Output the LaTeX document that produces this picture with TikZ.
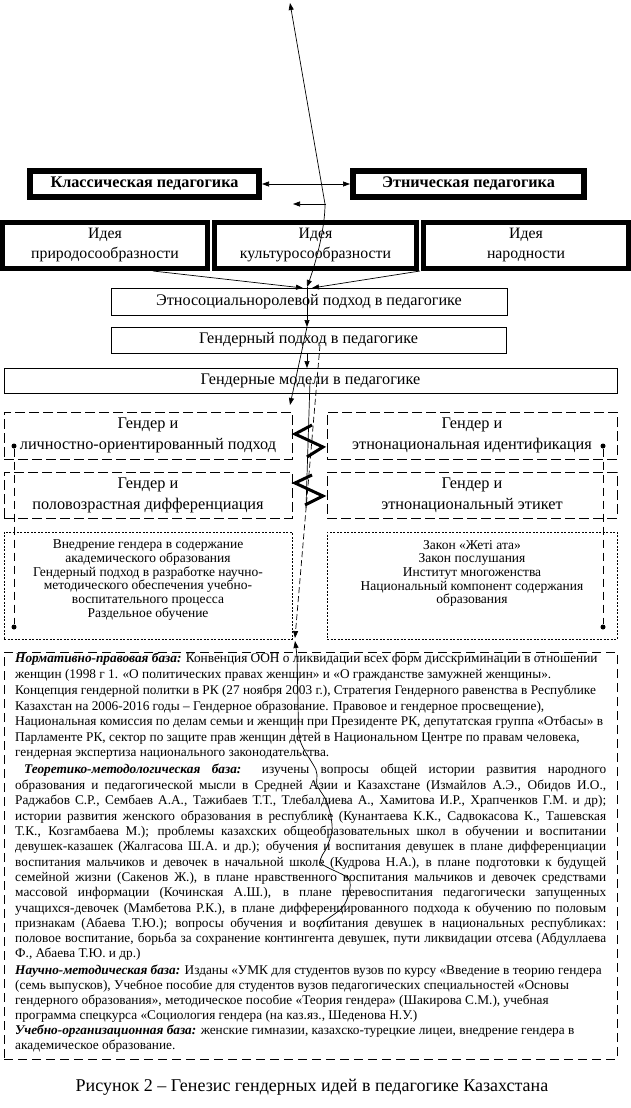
\documentclass[tikz,border=0pt]{standalone}
\usepackage{fontspec}
\setmainfont{Liberation Serif}
\usetikzlibrary{arrows.meta}
\begin{document}
\begin{tikzpicture}[x=1pt,y=-1pt,
  tip/.style={-{Triangle[length=7pt,width=5pt]}},
  tiptwo/.style={{Triangle[length=7pt,width=5pt]}-{Triangle[length=7pt,width=5pt]}},
  tipback/.style={{Triangle[length=7pt,width=5pt]}-},
  conn/.style={line width=0.7pt},
  thickbox/.style={draw,line width=6pt,inner sep=0,font=\bfseries\fontsize{16.2}{18}\selectfont},
  ideabox/.style={draw,line width=5pt,inner sep=0,align=center,font=\fontsize{15.8}{20}\selectfont},
  thinbox/.style={draw,line width=0.8pt,inner sep=0,font=\fontsize{16.2}{18}\selectfont},
  dashbox/.style={draw,line width=0.8pt,dash pattern=on 10pt off 4pt,inner sep=0,align=center,font=\fontsize{16.3}{21}\selectfont},
  dotbox/.style={draw,line width=0.7pt,dash pattern=on 2pt off 1.5pt,inner sep=0},
  dottext/.style={inner sep=0,align=center,font=\fontsize{13.5}{13.7}\selectfont},
  bigbox/.style={draw,line width=0.8pt,dash pattern=on 9pt off 5pt,inner sep=0},
  bline/.style={anchor=base west,inner sep=0,font=\fontsize{13.3}{15}\selectfont},
  dot/.style={circle,fill,inner sep=0,minimum size=5pt},
  dline/.style={line width=0.7pt,dash pattern=on 8pt off 5pt},
  zig/.style={line width=3pt,miter limit=10},
]
\useasboundingbox (0,0) rectangle (631,1108);
\fill[white] (0,0) rectangle (631,1108);

% top boxes
\node[thickbox,minimum width=229pt,minimum height=26pt] (klass) at (144.5,184) {Классическая педагогика};
\node[thickbox,minimum width=231pt,minimum height=26pt] (ethn) at (468.5,184) {Этническая педагогика};

% idea boxes
\node[ideabox,minimum width=205pt,minimum height=46pt] (idea1) at (105,245.5) {Идея\\природосообразности};
\node[ideabox,minimum width=202pt,minimum height=46pt] (idea2) at (315.5,245.5) {Идея\\культуросообразности};
\node[ideabox,minimum width=205pt,minimum height=46pt] (idea3) at (526,245.5) {Идея\\народности};

% approach boxes
\node[thinbox,minimum width=396pt,minimum height=27pt] (esr) at (309,301.5) {Этносоциальноролевой подход в педагогике};
\node[thinbox,minimum width=395pt,minimum height=26pt] (gend) at (308.5,340) {Гендерный подход в педагогике};
\node[thinbox,minimum width=613pt,minimum height=25pt] (model) at (310.5,380.5) {Гендерные модели в педагогике};

% dashed boxes
\node[dashbox,minimum width=288pt,minimum height=47pt] (gl1) at (148,435.5) {Гендер и\\личностно-ориентированный подход};
\node[dashbox,minimum width=290pt,minimum height=47pt] (gr1) at (472,435.5) {Гендер и\\этнонациональная идентификация};
\node[dashbox,minimum width=288pt,minimum height=46pt] (gl2) at (148,495) {Гендер и\\половозрастная дифференциация};
\node[dashbox,minimum width=290pt,minimum height=46pt] (gr2) at (472,495) {Гендер и\\этнонациональный этикет};

% dotted boxes
\node[dotbox,minimum width=288pt,minimum height=107pt] (bl) at (148,585.5) {};
\node[dotbox,minimum width=290pt,minimum height=107pt] (br) at (472,585.5) {};
\node[dottext] (blt) at (148,580) {Внедрение гендера в содержание\\академического образования\\Гендерный подход в разработке научно-\\методического обеспечения учебно-\\воспитательного процесса\\Раздельное обучение};
\node[dottext] (brt) at (472,573.5) {Закон «Жеті ата»\\Закон послушания\\Институт многоженства\\Национальный компонент содержания\\образования};

% dots and dashed side connectors
\node[dot] (dl1) at (14,446) {};
\node[dot] (dl2) at (14,627) {};
\node[dot] (dr1) at (603,446) {};
\node[dot] (dr2) at (603,627) {};
\draw[dline] (dl1) -- (dl2);
\draw[dline] (dr1) -- (dr2);

% big bottom box
\node[bigbox,minimum width=613pt,minimum height=407pt] (big) at (310.5,855.5) {};

% connectors at the top
\coordinate (topTip) at (290,3);
\coordinate (bend) at (325,204);
\coordinate (conv) at (307,287);
\draw[conn,tiptwo] (conv) .. controls (315,265) and (325,230) .. (bend) -- (topTip);
\draw[conn,tiptwo] (klass.east) -- (ethn.west);
\coordinate (sa1) at (326,204);
\coordinate (sa2) at (293,204);
\draw[conn,tip] (sa1) -- (sa2);

\coordinate (s1) at (153,271);
\coordinate (e1) at (303,288);
\coordinate (s3) at (420,271);
\coordinate (e3) at (312,288);
\draw[conn,tip] (s1) -- (e1);
\draw[conn,tip] (s3) -- (e3);

\coordinate (g1) at (307,327);
\coordinate (g2) at (307,353);
\coordinate (m1) at (307,368);
\coordinate (m2) at (290,405);
\draw[conn,tip] (conv) -- (g1);
\draw[conn,tip] (g2) -- (m1);
\draw[conn,tip] (g1) -- (m2);

\coordinate (d1) at (320,345);
\coordinate (d2) at (295,638);
\draw[conn,tip,dash pattern=on 6pt off 3pt] (d1) -- (d2);
\coordinate (v1) at (310,381);
\coordinate (v2) at (306,508);
\draw[conn] (v1) -- (v2);

% zigzags
\draw[zig] (312,425) -- (295,434) -- (323,447) -- (307,457);
\draw[zig] (312,475) -- (295,483) -- (323,496) -- (305,505);

% wobbly line through text
\coordinate (w0) at (295,641);
\draw[conn,tipback] plot[smooth,tension=0.5] coordinates {(295,641) (297,660) (298,700) (300,740) (316,770) (317,785) (326,800) (331,817) (332,832) (327,847) (321,863) (348,878) (349,893) (342,908) (322,923) (319,930)};

% bottom text: ragged lines
\foreach \yb/\mytext [count=\i] in {
 662/{\textbf{\textit{Нормативно-правовая база:}} Конвенция ООН о ликвидации всех форм дисскриминации в отношении},
 678/{женщин (1998 г 1. «О политических правах женщин» и «О гражданстве замужней женщины».},
 694/{Концепция гендерной политки в РК (27 ноября 2003 г.), Стратегия Гендерного равенства в Республике},
 710/{Казахстан на 2006-2016 годы – Гендерное образование. Правовое и гендерное просвещение),},
 725/{Национальная комиссия по делам семьи и женщин при Президенте РК, депутатская группа «Отбасы» в},
 741/{Парламенте РК, сектор по защите прав женщин детей в Национальном Центре по правам человека,},
 756/{гендерная экспертиза национального законодательства.},
 957/{Ф., Абаева Т.Ю. и др.)},
 974/{\textbf{\textit{Научно-методическая база:}} Изданы «УМК для студентов вузов по курсу «Введение в теорию гендера},
 989/{(семь выпусков), Учебное пособие для студентов вузов педагогических специальностей «Основы},
 1004/{гендерного образования», методическое пособие «Теория гендера» (Шакирова С.М.), учебная},
 1019/{программа спецкурса «Социология гендера (на каз.яз., Шеденова Н.У.)},
 1034/{\textbf{\textit{Учебно-организационная база:}} женские гимназии, казахско-турецкие лицеи, внедрение гендера в},
 1049/{академическое образование.}}
 \node[bline] (ra\i) at (15,\yb) {\mytext};

% bottom text: justified lines
\node[bline] (jfirst) at (24,773) {\makebox[582pt][s]{\textbf{\textit{Теоретико-методологическая база:}} изучены вопросы общей истории развития народного}};
\foreach \yb/\mytext [count=\i] in {
 789/{образования и педагогической мысли в Средней Азии и Казахстане (Измайлов А.Э., Обидов И.О.,},
 804/{Раджабов С.Р., Сембаев А.А., Тажибаев Т.Т., Тлебалдиева А., Хамитова И.Р., Храпченков Г.М. и др);},
 820/{истории развития женского образования в республике (Кунантаева К.К., Садвокасова К., Ташевская},
 835/{Т.К., Козгамбаева М.); проблемы казахских общеобразовательных школ в обучении и воспитании},
 850/{девушек-казашек (Жалгасова Ш.А. и др.); обучения и воспитания девушек в плане дифференциации},
 866/{воспитания мальчиков и девочек в начальной школе (Кудрова Н.А.), в плане подготовки к будущей},
 881/{семейной жизни (Сакенов Ж.), в плане нравственного воспитания мальчиков и девочек средствами},
 896/{массовой информации (Кочинская А.Ш.), в плане перевоспитания педагогически запущенных},
 912/{учащихся-девочек (Мамбетова Р.К.), в плане дифференцированного подхода к обучению по половым},
 927/{признакам (Абаева Т.Ю.); вопросы обучения и воспитания девушек в национальных республиках:},
 942/{половое воспитание, борьба за сохранение контингента девушек, пути ликвидации отсева (Абдуллаева}}
 \node[bline] (ju\i) at (15,\yb) {\makebox[591pt][s]{\mytext}};

% caption
\node[inner sep=0,font=\fontsize{18}{20}\selectfont] (cap) at (312,1087) {Рисунок 2 – Генезис гендерных идей в педагогике Казахстана};
\end{tikzpicture}
\end{document}
